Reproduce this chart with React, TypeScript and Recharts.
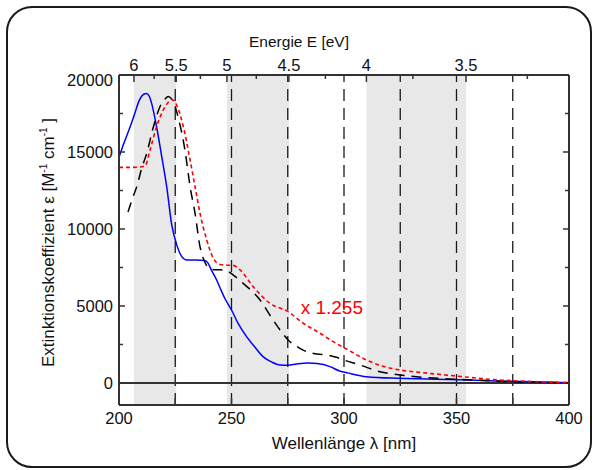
import React from 'react';
import {
  ComposedChart,
  Line,
  XAxis,
  YAxis,
  ReferenceArea,
  ReferenceLine,
  ReferenceDot,
} from 'recharts';

// ---------- data ----------
const blueWavelength = [200, 202, 205, 207, 209, 211, 212.3, 213.5, 214.5, 216.7, 219, 221.2, 223.4, 225.6, 227.5, 230, 234.5, 238, 239.5, 241, 243.4, 245, 247, 250, 253, 256.7, 260, 264, 268, 271.6, 275, 279, 284, 288, 293.8, 298, 302, 310, 325, 340, 354.5, 370, 384, 400];
const blueEpsilon = [14650, 15500, 16650, 17500, 18350, 18750, 18800, 18600, 18160, 16640, 14700, 12750, 10300, 9000, 8300, 7990, 7990, 7960, 7800, 7350, 6690, 6150, 5500, 4740, 3850, 3010, 2400, 1710, 1350, 1170, 1150, 1230, 1290, 1260, 1060, 780, 640, 410, 300, 240, 195, 120, 80, 20];

const blackWavelength = [204, 206, 208, 210, 212.3, 215.3, 218.2, 220.5, 221.9, 223, 224.1, 226.4, 229.3, 231.6, 233.8, 236, 238, 240, 243, 247, 250.8, 255.2, 262.7, 268, 271.6, 275.2, 280.4, 284, 288, 293, 297, 300, 307, 316, 325, 335, 350, 365, 375, 390, 400];
const blackEpsilon = [11100, 12000, 12800, 13900, 14900, 16640, 17940, 18450, 18600, 18500, 18270, 17190, 15130, 12750, 11020, 8850, 7900, 7450, 7350, 7340, 7010, 6470, 5390, 4200, 3440, 2790, 2250, 2000, 1880, 1800, 1650, 1490, 1170, 730, 520, 370, 240, 140, 85, 40, 20];

const redWavelength = [200, 205, 209, 211.6, 213.8, 216.7, 219.7, 222, 223.4, 224.5, 225.6, 228.6, 231.6, 233.8, 236, 239, 241.9, 245, 248, 250.8, 253.8, 259.7, 267.1, 275.2, 281.9, 289.3, 295, 301.9, 310, 317, 325, 335, 350, 365, 375, 388, 400];
const redEpsilon = [14000, 14000, 14020, 14100, 15130, 16640, 17730, 18250, 18420, 18300, 18050, 16640, 14480, 12750, 11020, 9290, 8100, 7700, 7650, 7640, 7340, 6250, 5170, 4630, 3880, 3230, 2700, 2140, 1490, 1100, 840, 670, 450, 240, 150, 70, 20];

const wavelengthTicks = [200, 225, 250, 275, 300, 325, 350, 375, 400];
const wavelengthLabels = [200, 250, 300, 350, 400];
const epsilonTicks = [0, 2500, 5000, 7500, 10000, 12500, 15000, 17500, 20000];
const epsilonLabels = [0, 5000, 10000, 15000, 20000];
const energyTicks = [6, 5.75, 5.5, 5.25, 5, 4.75, 4.5, 4.25, 4, 3.75, 3.5, 3.25];
const energyLabels = ['6', '5.5', '5', '4.5', '4', '3.5'];
const shadedEnergyBands = [
  [6, 5.5],
  [5, 4.5],
  [4, 3.5],
];
const dashedWavelengths = [225, 250, 275, 300, 325, 350, 375];
const scaleNote = 'x 1.255';
const scaleNoteAt = { lambda: 294.6, eps: 4935 };

// ---------- helpers ----------
const HC = 1239.84; // eV*nm
const toNm = (e: number) => HC / e;
const zip = (xs: number[], ys: number[]) => xs.map((x, i) => ({ lambda: x, eps: ys[i] }));
const blueData = zip(blueWavelength, blueEpsilon);
const blackData = zip(blackWavelength, blackEpsilon);
const redData = zip(redWavelength, redEpsilon);
const energyTickNm = energyTicks.map(toNm);

const FONT = '"Liberation Sans", Arial, Helvetica, sans-serif';
const AX = '#333333';
const TXT = '#111111';
const TICK_FS = 16.5;

const BottomTick = (props: any) => {
  const { x, y, payload } = props;
  const v = payload.value;
  const major = wavelengthLabels.includes(v);
  return (
    <g>
      <line x1={x} x2={x} y1={y} y2={y - 7} stroke={AX} strokeWidth={1.5} />
      {major && (
        <text x={x} y={y + 18.5} textAnchor="middle" fontSize={TICK_FS} fill={TXT} fontFamily={FONT}>
          {v}
        </text>
      )}
    </g>
  );
};

const TopTick = (props: any) => {
  const { x, y, payload } = props;
  const e = Math.round((HC / payload.value) * 100) / 100;
  const label = String(e);
  const major = energyLabels.includes(label);
  return (
    <g>
      <line x1={x} x2={x} y1={y} y2={y + (major ? 7 : 4)} stroke={AX} strokeWidth={1.5} />
      {major && (
        <text x={x} y={y - 4} textAnchor="middle" fontSize={TICK_FS} fill={TXT} fontFamily={FONT}>
          {label}
        </text>
      )}
    </g>
  );
};

const LeftTick = (props: any) => {
  const { x, y, payload } = props;
  const v = payload.value;
  const major = epsilonLabels.includes(v);
  const ly = Math.max(y, 80);
  return (
    <g>
      {v !== 0 && <line x1={x} x2={x + (major ? 6 : 4)} y1={y} y2={y} stroke={AX} strokeWidth={1.5} />}
      {major && (
        <text x={x - 6} y={ly + 5.8} textAnchor="end" fontSize={TICK_FS} fill={TXT} fontFamily={FONT}>
          {v}
        </text>
      )}
    </g>
  );
};

const RightTick = (props: any) => {
  const { x, y, payload } = props;
  const v = payload.value;
  const major = epsilonLabels.includes(v);
  if (v === 0) return <g />;
  return <line x1={x} x2={x - (major ? 6 : 4)} y1={y} y2={y} stroke={AX} strokeWidth={1.5} />;
};

const YTitle = (props: any) => {
  const vb = props.viewBox || { x: 0, y: 75, width: 119, height: 330 };
  const cx = vb.x + 54;
  const cy = vb.y + vb.height / 2 + 2.5;
  return (
    <text
      x={cx}
      y={cy}
      transform={`rotate(-90 ${cx} ${cy})`}
      textAnchor="middle"
      fontSize={17}
      fill={TXT}
      fontFamily={FONT}
    >
      <tspan>Extinktionskoeffizient ε [M</tspan>
      <tspan fontSize={10} dy={-7}>-1</tspan>
      <tspan dy={7}> cm</tspan>
      <tspan fontSize={10} dy={-7}>-1</tspan>
      <tspan dy={7}> ]</tspan>
    </text>
  );
};

const BottomTitle = (props: any) => {
  const vb = props.viewBox || { x: 119, y: 405, width: 450, height: 65 };
  return (
    <text x={vb.x + vb.width / 2} y={vb.y + 44} textAnchor="middle" fontSize={17} fill={TXT} fontFamily={FONT}>
      Wellenlänge λ [nm]
    </text>
  );
};

const TopTitle = (props: any) => {
  const vb = props.viewBox || { x: 119, y: 0, width: 450, height: 75 };
  return (
    <text x={vb.x + 180} y={vb.y + 47} textAnchor="middle" fontSize={15.5} fill={TXT} fontFamily={FONT}>
      Energie E [eV]
    </text>
  );
};

export default function App() {
  return (
    <div style={{ position: 'absolute', left: 0, top: 0, width: 595, height: 470, background: '#fff' }}>
      <div
        style={{
          position: 'absolute',
          left: 6,
          top: 6,
          width: 582,
          height: 458,
          border: '2px solid #1a1a1a',
          borderRadius: 26,
          pointerEvents: 'none',
        }}
      />
      <div style={{ position: 'absolute', left: 0, top: 0 }}>
        <ComposedChart width={595} height={470} margin={{ top: 0, right: 0, bottom: 0, left: 0 }}>
          <XAxis
            xAxisId="bottom"
            dataKey="lambda"
            type="number"
            orientation="bottom"
            domain={[200, 400]}
            ticks={wavelengthTicks}
            interval={0}
            height={65}
            tickSize={0}
            tickMargin={0}
            tick={<BottomTick />}
            axisLine={{ stroke: AX, strokeWidth: 2 }}
            allowDataOverflow
            label={{ content: <BottomTitle /> }}
          />
          <XAxis
            xAxisId="top"
            dataKey="lambda"
            type="number"
            orientation="top"
            domain={[200, 400]}
            ticks={energyTickNm}
            interval={0}
            height={75}
            tickSize={0}
            tickMargin={0}
            tick={<TopTick />}
            axisLine={{ stroke: AX, strokeWidth: 2 }}
            allowDataOverflow
            label={{ content: <TopTitle /> }}
          />
          <YAxis
            yAxisId="left"
            type="number"
            orientation="left"
            domain={[-1430, 20000]}
            ticks={epsilonTicks}
            interval={0}
            width={119}
            tickSize={0}
            tickMargin={0}
            tick={<LeftTick />}
            axisLine={{ stroke: AX, strokeWidth: 2 }}
            allowDataOverflow
            label={{ content: <YTitle /> }}
          />
          <YAxis
            yAxisId="right"
            type="number"
            orientation="right"
            domain={[-1430, 20000]}
            ticks={epsilonTicks}
            interval={0}
            width={26}
            tickSize={0}
            tickMargin={0}
            tick={<RightTick />}
            axisLine={{ stroke: AX, strokeWidth: 2 }}
            allowDataOverflow
          />
          {shadedEnergyBands.map(([e1, e2], i) => (
            <ReferenceArea
              key={`band-${i}`}
              xAxisId="bottom"
              yAxisId="left"
              x1={toNm(e1)}
              x2={toNm(e2)}
              y1={-1430}
              y2={20000}
              fill="#e8e8e8"
              fillOpacity={1}
              stroke="none"
              ifOverflow="hidden"
            />
          ))}
          {dashedWavelengths.map((w) => (
            <ReferenceLine
              key={`dl-${w}`}
              xAxisId="bottom"
              yAxisId="left"
              x={w}
              stroke="#1a1a1a"
              strokeWidth={1.3}
              strokeDasharray="12 7"
            />
          ))}
          <ReferenceLine xAxisId="bottom" yAxisId="left" y={0} stroke={AX} strokeWidth={2} />
          <Line
            xAxisId="bottom"
            yAxisId="left"
            data={blueData}
            dataKey="eps"
            type="monotone"
            stroke="#0000ff"
            strokeWidth={1.5}
            dot={false}
            activeDot={false}
            isAnimationActive={false}
          />
          <Line
            xAxisId="bottom"
            yAxisId="left"
            data={blackData}
            dataKey="eps"
            type="monotone"
            stroke="#000000"
            strokeWidth={1.5}
            strokeDasharray="10 7"
            dot={false}
            activeDot={false}
            isAnimationActive={false}
          />
          <Line
            xAxisId="top"
            yAxisId="left"
            data={redData}
            dataKey="eps"
            type="monotone"
            stroke="#ff0000"
            strokeWidth={1.6}
            strokeDasharray="4 3"
            dot={false}
            activeDot={false}
            isAnimationActive={false}
          />
          <ReferenceDot
            xAxisId="bottom"
            yAxisId="left"
            x={scaleNoteAt.lambda}
            y={scaleNoteAt.eps}
            r={1}
            fill="none"
            stroke="none"
            label={{ value: scaleNote, position: 'center', fill: '#ff0000', fontSize: 19, fontFamily: FONT }}
          />
        </ComposedChart>
      </div>
    </div>
  );
}
